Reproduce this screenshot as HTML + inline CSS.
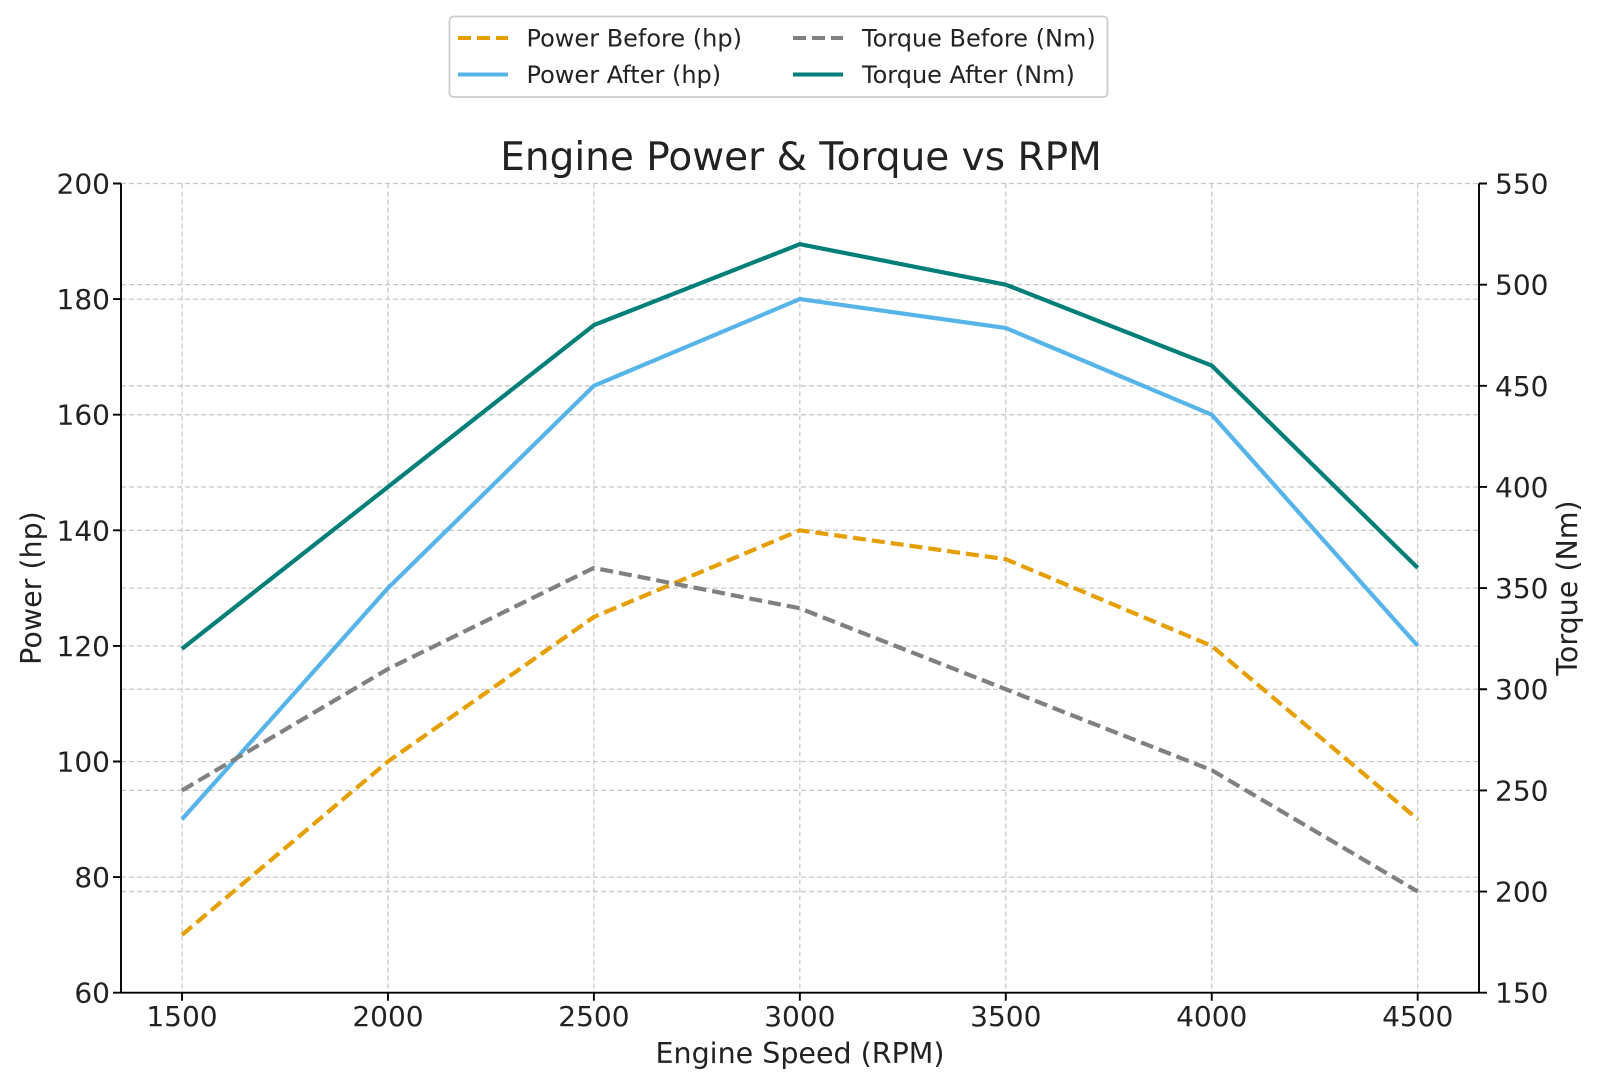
<!DOCTYPE html>
<html><head><meta charset="utf-8"><style>
html,body{margin:0;padding:0;background:#fff;}
svg text{font-family:"DejaVu Sans","Liberation Sans",sans-serif;fill:#222;}
</style></head><body>
<svg width="1600" height="1087" viewBox="0 0 1600 1087" xmlns="http://www.w3.org/2000/svg">
<rect width="1600" height="1087" fill="#fff"/>
<g stroke="#c8c8c8" stroke-width="1.3" stroke-dasharray="5,3" fill="none">
<line x1="182" y1="183.5" x2="182" y2="992.7"/><line x1="387.95" y1="183.5" x2="387.95" y2="992.7"/><line x1="593.9" y1="183.5" x2="593.9" y2="992.7"/><line x1="799.85" y1="183.5" x2="799.85" y2="992.7"/><line x1="1005.8" y1="183.5" x2="1005.8" y2="992.7"/><line x1="1211.75" y1="183.5" x2="1211.75" y2="992.7"/><line x1="1417.7" y1="183.5" x2="1417.7" y2="992.7"/>
<line x1="121" y1="183.5" x2="1479" y2="183.5"/><line x1="121" y1="299.1" x2="1479" y2="299.1"/><line x1="121" y1="414.7" x2="1479" y2="414.7"/><line x1="121" y1="530.3" x2="1479" y2="530.3"/><line x1="121" y1="645.9" x2="1479" y2="645.9"/><line x1="121" y1="761.5" x2="1479" y2="761.5"/><line x1="121" y1="877.1" x2="1479" y2="877.1"/>
<line x1="121" y1="284.65" x2="1479" y2="284.65"/><line x1="121" y1="385.8" x2="1479" y2="385.8"/><line x1="121" y1="486.95" x2="1479" y2="486.95"/><line x1="121" y1="588.1" x2="1479" y2="588.1"/><line x1="121" y1="689.25" x2="1479" y2="689.25"/><line x1="121" y1="790.4" x2="1479" y2="790.4"/><line x1="121" y1="891.55" x2="1479" y2="891.55"/>
</g>
<g fill="none" stroke-width="4.2" stroke-linejoin="round">
<polyline stroke="#E69F00" stroke-dasharray="13,6" points="182,934.9 387.95,761.5 593.9,617 799.85,530.3 1005.8,559.2 1211.75,645.9 1417.7,819.3"/>
<polyline stroke="#56B4E9" points="182,819.3 387.95,588.1 593.9,385.8 799.85,299.1 1005.8,328 1211.75,414.7 1417.7,645.9"/>
<polyline stroke="#808080" stroke-dasharray="13,6" points="182,790.4 387.95,669 593.9,567.9 799.85,608.3 1005.8,689.25 1211.75,770.2 1417.7,891.55"/>
<polyline stroke="#007F78" points="182,648.8 387.95,486.95 593.9,325.1 799.85,244.2 1005.8,284.65 1211.75,365.6 1417.7,567.9"/>
</g>
<g stroke="#000" stroke-width="1.9" fill="none">
<line x1="121" y1="183.5" x2="121" y2="992.7"/><line x1="1479" y1="183.5" x2="1479" y2="992.7"/><line x1="121" y1="992.7" x2="1479" y2="992.7"/>
<path d="M182 992.7v8M387.95 992.7v8M593.9 992.7v8M799.85 992.7v8M1005.8 992.7v8M1211.75 992.7v8M1417.7 992.7v8"/>
<path d="M121 183.5h-8M121 299.1h-8M121 414.7h-8M121 530.3h-8M121 645.9h-8M121 761.5h-8M121 877.1h-8M121 992.7h-8"/>
<path d="M1479 183.5h8M1479 284.65h8M1479 385.8h8M1479 486.95h8M1479 588.1h8M1479 689.25h8M1479 790.4h8M1479 891.55h8M1479 992.7h8"/>
</g>
<g font-size="28" text-anchor="middle">
<text x="182" y="1026">1500</text><text x="387.95" y="1026">2000</text><text x="593.9" y="1026">2500</text><text x="799.85" y="1026">3000</text><text x="1005.8" y="1026">3500</text><text x="1211.75" y="1026">4000</text><text x="1417.7" y="1026">4500</text>
</g>
<g font-size="28" text-anchor="end">
<text x="110" y="193.5">200</text><text x="110" y="309">180</text><text x="110" y="424.7">160</text><text x="110" y="540.3">140</text><text x="110" y="655.9">120</text><text x="110" y="771.5">100</text><text x="110" y="887">80</text><text x="110" y="1002.7">60</text>
</g>
<g font-size="28">
<text x="1495" y="193.5">550</text><text x="1495" y="294.6">500</text><text x="1495" y="395.8">450</text><text x="1495" y="497">400</text><text x="1495" y="598">350</text><text x="1495" y="699.2">300</text><text x="1495" y="800.4">250</text><text x="1495" y="901.5">200</text><text x="1495" y="1002.7">150</text>
</g>
<text x="800" y="1063" font-size="28.5" text-anchor="middle">Engine Speed (RPM)</text>
<text transform="translate(41,588) rotate(-90)" font-size="28.5" text-anchor="middle">Power (hp)</text>
<text transform="translate(1577,588) rotate(-90)" font-size="28.5" text-anchor="middle">Torque (Nm)</text>
<text x="801" y="170" font-size="39" text-anchor="middle" fill="#333">Engine Power &amp; Torque vs RPM</text>
<rect x="449.5" y="16.5" width="658" height="80.5" rx="4" fill="#fff" stroke="#ccc" stroke-width="1.8"/>
<g stroke-width="4">
<line x1="458" y1="38" x2="508" y2="38" stroke="#E69F00" stroke-dasharray="13,6"/>
<line x1="458" y1="74.5" x2="508" y2="74.5" stroke="#56B4E9"/>
<line x1="793" y1="38" x2="843" y2="38" stroke="#808080" stroke-dasharray="13,6"/>
<line x1="793" y1="74.5" x2="843" y2="74.5" stroke="#007F78"/>
</g>
<g font-size="24">
<text x="526.5" y="46.5">Power Before (hp)</text><text x="526.5" y="83">Power After (hp)</text>
<text x="862" y="46.5">Torque Before (Nm)</text><text x="862" y="83">Torque After (Nm)</text>
</g>
</svg>
</body></html>
